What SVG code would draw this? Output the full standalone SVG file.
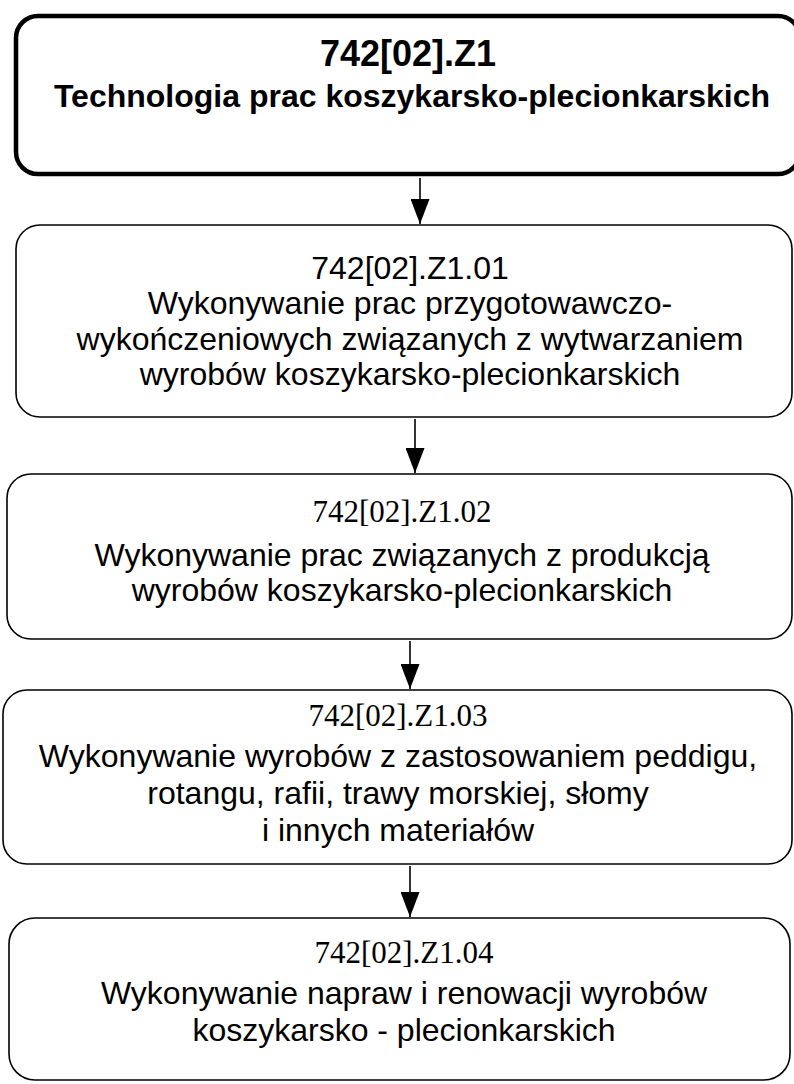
<svg xmlns="http://www.w3.org/2000/svg" width="794" height="1084" viewBox="0 0 794 1084">
<style>
.box{fill:#fff;stroke:#000;stroke-width:1.6}
.main{fill:#fff;stroke:#000;stroke-width:4.5}
.b{font-family:"Liberation Sans",Arial,sans-serif;font-weight:bold;text-anchor:middle;fill:#000}
.t{font-family:"Liberation Sans",Arial,sans-serif;font-size:32px;text-anchor:middle;fill:#000}
.s{font-family:"Liberation Serif","Times New Roman",serif;font-size:31px;text-anchor:middle;fill:#000}
.c{stroke:#000;stroke-width:1.6;fill:none}
</style>
<defs>
<marker id="ah" markerUnits="userSpaceOnUse" markerWidth="25" markerHeight="19" refX="25" refY="9.5" orient="auto" viewBox="0 0 25 19">
<path d="M0,0 L25,9.5 L0,19 Z" fill="#000"/>
</marker>
</defs>
<g id="n0">
<rect class="main" x="16" y="16" width="784" height="158" rx="22"/>
<text class="b" x="408" y="66" font-size="36">742[02].Z1</text>
<text class="b" x="412" y="107" font-size="32">Technologia prac koszykarsko-plecionkarskich</text>
</g>
<g id="n1">
<rect class="box" x="16" y="225" width="776" height="192" rx="24"/>
<text class="t" x="410" y="279">742[02].Z1.01</text>
<text class="t" x="410" y="314">Wykonywanie prac przygotowawczo-</text>
<text class="t" x="410" y="350">wykończeniowych związanych z wytwarzaniem</text>
<text class="t" x="410" y="385">wyrobów koszykarsko-plecionkarskich</text>
</g>
<g id="n2">
<rect class="box" x="7" y="474" width="785" height="165" rx="24"/>
<text class="s" x="402" y="522">742[02].Z1.02</text>
<text class="t" x="402" y="566">Wykonywanie prac związanych z produkcją</text>
<text class="t" x="402" y="601">wyrobów koszykarsko-plecionkarskich</text>
</g>
<g id="n3">
<rect class="box" x="3" y="690" width="789" height="174" rx="24"/>
<text class="s" x="398" y="726">742[02].Z1.03</text>
<text class="t" x="398" y="767">Wykonywanie wyrobów z zastosowaniem peddigu,</text>
<text class="t" x="398" y="804">rotangu, rafii, trawy morskiej, słomy</text>
<text class="t" x="398" y="841">i innych materiałów</text>
</g>
<g id="n4">
<rect class="box" x="9" y="918" width="781" height="162" rx="26"/>
<text class="s" x="404" y="963">742[02].Z1.04</text>
<text class="t" x="404" y="1004">Wykonywanie napraw i renowacji wyrobów</text>
<text class="t" x="404" y="1041">koszykarsko - plecionkarskich</text>
</g>
<g id="connectors">
<line class="c" x1="420" y1="178" x2="420" y2="224" marker-end="url(#ah)"/>
<line class="c" x1="415" y1="419" x2="415" y2="473" marker-end="url(#ah)"/>
<line class="c" x1="410" y1="641" x2="410" y2="689" marker-end="url(#ah)"/>
<line class="c" x1="410" y1="866" x2="410" y2="917" marker-end="url(#ah)"/>
</g>
</svg>
